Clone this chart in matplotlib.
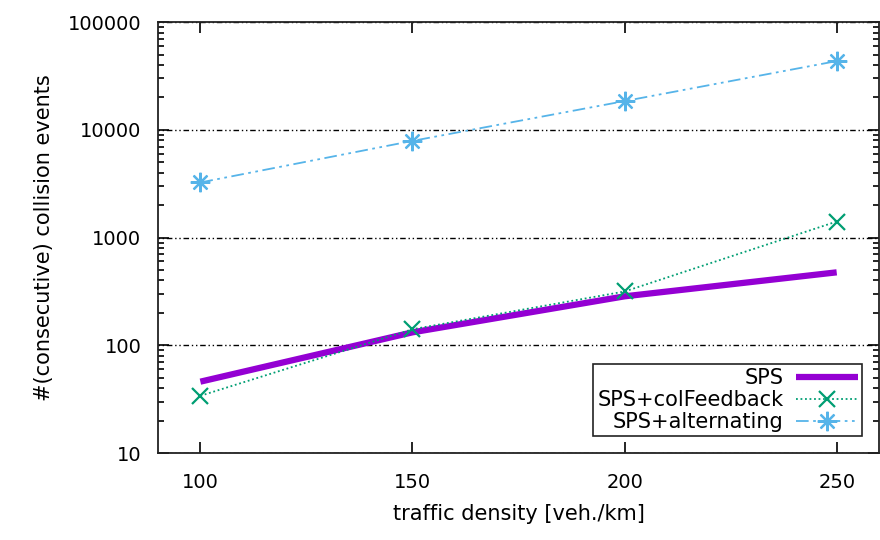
import matplotlib
matplotlib.use("Agg")
import matplotlib.pyplot as plt
from matplotlib.ticker import LogLocator, NullFormatter, FixedLocator

# values
density = [100, 150, 200, 250]
sps = [46, 132, 285, 476]
sps_colfeedback = [34, 141, 316, 1410]
sps_alternating = [3250, 7900, 18500, 43500]

y_ticks = [10, 100, 1000, 10000, 100000]
y_tick_labels = ["10", "100", "1000", "10000", "100000"]

plt.rcParams['font.family'] = ['DejaVu Sans']

fig = plt.figure(figsize=(8.8, 5.4), dpi=100)
ax = fig.add_axes([0.1795, 0.161, 0.8195, 0.798])

ax.plot(density, sps, color='#9400D3', lw=4.5, solid_capstyle='butt', label='SPS')
ax.plot(density, sps_colfeedback, color='#009E73', lw=1.3, ls=(0, (1, 1.5)),
        marker='x', ms=11, mew=1.6, label='SPS+colFeedback')
ax.plot(density, sps_alternating, color='#56B4E9', lw=1.3, ls=(0, (7, 2.5, 1.5, 2.5, 1.5, 2.5)),
        marker=(8, 2, 0), ms=14, mew=1.6, label='SPS+alternating')

ax.set_yscale('log')
ax.set_xlim(90, 260)
ax.set_ylim(10, 100000)
ax.set_xticks(density)
ax.yaxis.set_major_locator(FixedLocator(y_ticks))
ax.set_yticklabels(y_tick_labels)
ax.yaxis.set_minor_locator(LogLocator(base=10, subs=range(2, 10), numticks=20))
ax.yaxis.set_minor_formatter(NullFormatter())

ax.tick_params(which='both', direction='in', top=True, right=True, labelsize=14, colors='black')
ax.tick_params(which='major', length=8, width=1.2, pad=12)
ax.tick_params(which='minor', length=4, width=1.2)
ax.tick_params(axis='x', pad=14)
for s in ax.spines.values():
    s.set_linewidth(1.3)
    s.set_color('#222222')

ax.grid(axis='y', which='major', color='black', lw=1.0, ls=(0, (1, 2, 1, 2, 4, 2)))

ax.set_xlabel('traffic density [veh./km]', fontsize=15, labelpad=9)
ax.set_ylabel('#(consecutive) collision events', fontsize=15, labelpad=10)

leg = ax.legend(loc='lower right', markerfirst=False, fontsize=15, frameon=True,
                fancybox=False, edgecolor='#222222', framealpha=1, handlelength=3.0,
                borderaxespad=0.8, borderpad=0.2, labelspacing=0.1, handletextpad=0.6)
leg.get_frame().set_linewidth(1.2)
for t in leg.get_texts():
    t.set_ha('right')

fig.savefig('out.png', dpi=100)
